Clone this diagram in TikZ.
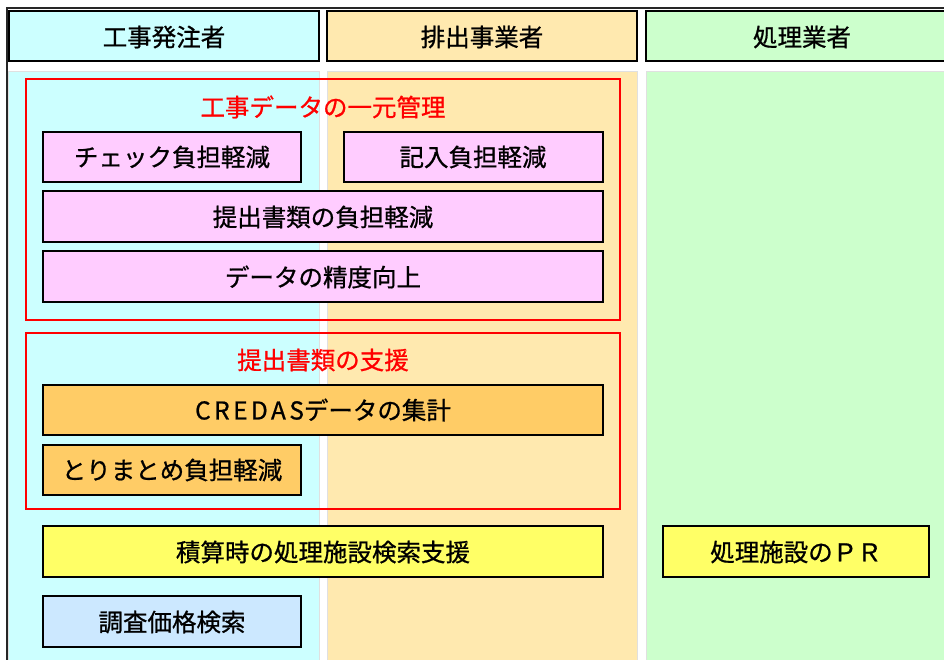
\documentclass[tikz,border=0pt]{standalone}
\usepackage{fontspec}
\setmainfont{Noto Sans CJK JP}[BoldFont=*,BoldFeatures={FakeBold=0.8}]
\definecolor{colcyan}{HTML}{CCFFFF}
\definecolor{colorange}{HTML}{FFE9AF}
\definecolor{colgreen}{HTML}{CCFFCC}
\definecolor{boxpink}{HTML}{FFCCFF}
\definecolor{boxorange}{HTML}{FFCC66}
\definecolor{boxyellow}{HTML}{FFFF66}
\definecolor{boxblue}{HTML}{CCE8FF}
\begin{document}
\begin{tikzpicture}[x=1pt,y=-1pt,
  txt/.style={font=\fontsize{24.5}{26}\selectfont\bfseries},
  hdr/.style={draw=black,line width=2pt},
  colbg/.style={draw=black!12,line width=1pt},
  item/.style={draw=black,line width=2pt},
  grp/.style={draw=red,line width=2pt},
  grptitle/.style={txt,text=red}]
\useasboundingbox (0,0) rectangle (944,659);
\fill[white] (0,0) rectangle (944,659);
% outer frame
\draw[black!85,line width=1.5pt] (7,700) -- (7,8) -- (960,8);
% column backgrounds
\filldraw[colbg,fill=colcyan] (8,71) rectangle (319,670);
\filldraw[colbg,fill=colorange] (327,71) rectangle (637,670);
\filldraw[colbg,fill=colgreen] (646,71) rectangle (960,670);
% headers
\filldraw[hdr,fill=colcyan] (9,11) rectangle (319,61);
\filldraw[hdr,fill=colorange] (327,11) rectangle (637,61);
\filldraw[hdr,fill=colgreen] (646,11) rectangle (960,61);
\node[txt] (h1) at (164,37) {工事発注者};
\node[txt] (h2) at (482,37) {排出事業者};
\node[txt] (h3) at (802,37) {処理業者};
% group frames
\draw[grp] (26,79) rectangle (620,320);
\node[grptitle] (g1) at (323,107) {工事データの一元管理};
\draw[grp] (26,333) rectangle (620,509);
\node[grptitle] (g2) at (323,360) {提出書類の支援};
% items
\filldraw[item,fill=boxpink] (43,132) rectangle (301,182);
\node[txt] (a1) at (172,157) {チェック負担軽減};
\filldraw[item,fill=boxpink] (344,132) rectangle (603,182);
\node[txt] (a2) at (473,157) {記入負担軽減};
\filldraw[item,fill=boxpink] (43,191) rectangle (603,242);
\node[txt] (a3) at (323,217) {提出書類の負担軽減};
\filldraw[item,fill=boxpink] (43,251) rectangle (603,302);
\node[txt] (a4) at (323,277) {データの精度向上};
\filldraw[item,fill=boxorange] (43,385) rectangle (603,435);
\node[txt] (b1) at (323,410) {{\addfontfeature{LetterSpace=14}CREDAS}データの集計};
\filldraw[item,fill=boxorange] (43,445) rectangle (301,495);
\node[txt] (b2) at (172,470) {とりまとめ負担軽減};
\filldraw[item,fill=boxyellow] (43,526) rectangle (603,577);
\node[txt] (c1) at (323,552) {積算時の処理施設検索支援};
\filldraw[item,fill=boxyellow] (663,526) rectangle (929,577);
\node[txt] (c2) at (796,552) {処理施設のＰＲ};
\filldraw[item,fill=boxblue] (43,596) rectangle (301,647);
\node[txt] (d1) at (172,622) {調査価格検索};
\end{tikzpicture}
\end{document}
